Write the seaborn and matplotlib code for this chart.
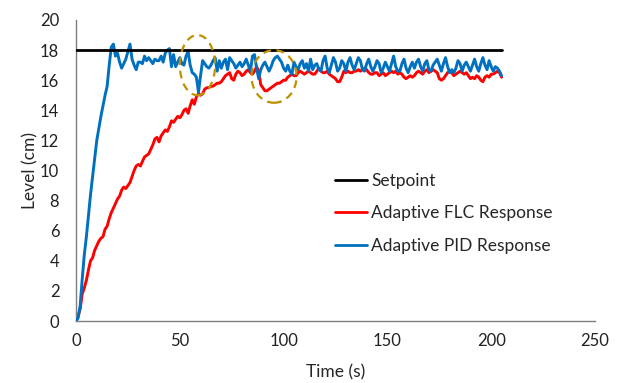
import numpy as np
import pandas as pd
import matplotlib
matplotlib.use("Agg")
import matplotlib.pyplot as plt
from matplotlib.patches import Ellipse
import seaborn as sns

time_s = list(range(0, 206))

pid_level = [
    0.0, 0.2, 1.0, 2.8, 4.4, 5.6, 7.0, 8.4, 9.6, 10.8,
    12.0, 12.8, 13.6, 14.3, 15.0, 15.6, 17.0, 18.2, 18.4, 17.6,
    17.8, 17.2, 16.8, 17.1, 17.4, 17.9, 18.4, 17.4, 17.0, 16.7,
    17.2, 17.2, 17.1, 17.6, 17.3, 17.5, 17.3, 17.1, 17.4, 17.3,
    17.3, 17.6, 17.2, 17.8, 18.0, 18.1, 16.9, 17.7, 16.9, 17.2,
    17.5, 17.1, 17.0, 17.6, 17.9, 17.0, 16.5, 16.4, 16.2, 15.2,
    16.3, 17.3, 17.1, 16.9, 16.8, 17.0, 17.3, 17.5, 16.6, 17.3,
    16.8, 17.2, 17.4, 16.7, 17.5, 17.3, 17.1, 16.8, 17.0, 17.2,
    16.9, 17.1, 17.4, 17.0, 16.6, 17.6, 17.7, 16.8, 16.1, 16.7,
    17.0, 17.2, 16.9, 16.6, 16.9, 17.3, 17.5, 17.6, 17.4, 17.2,
    16.8, 16.6, 17.0, 16.6, 16.4, 17.2, 16.9, 16.7, 17.1, 17.3,
    16.8, 17.1, 16.6, 17.4, 16.7, 17.0, 17.1, 16.7, 16.6, 17.3,
    17.6, 16.8, 16.5, 17.0, 17.5, 17.2, 16.6, 16.8, 17.3, 17.1,
    16.6, 17.2, 17.5, 17.0, 16.7, 17.1, 17.5, 17.3, 16.7, 16.6,
    17.1, 17.4, 16.9, 16.6, 16.9, 17.3, 17.1, 16.5, 16.8, 17.2,
    16.9, 16.6, 17.1, 17.6, 16.9, 16.6, 16.6, 17.1, 17.4, 16.8,
    16.5, 16.9, 17.2, 16.8, 17.2, 17.4, 16.9, 16.6, 17.1, 17.3,
    16.7, 16.6, 17.0, 17.2, 17.4, 17.0, 16.6, 17.1, 17.5, 16.9,
    16.5, 16.7, 16.5, 16.8, 17.3, 17.1, 16.6, 17.0, 17.2, 16.9,
    16.6, 17.0, 17.4, 16.9, 16.6, 17.1, 17.5, 17.0, 16.7, 17.3,
    16.9, 16.6, 16.9, 16.8, 16.6, 16.3,
]

flc_level = [
    0.0, 0.3, 0.8, 1.8, 2.2, 2.7, 3.4, 4.0, 4.2, 4.7,
    5.0, 5.3, 5.5, 5.6, 6.1, 6.3, 6.8, 7.2, 7.5, 7.8,
    8.1, 8.3, 8.7, 8.9, 8.8, 9.0, 9.2, 9.6, 10.0, 10.3,
    10.4, 10.3, 10.6, 10.9, 11.0, 11.1, 11.4, 11.7, 12.1, 12.2,
    11.9, 12.3, 12.5, 12.7, 12.6, 12.9, 13.3, 13.2, 13.4, 13.6,
    13.5, 13.7, 14.0, 14.1, 13.8, 14.3, 14.7, 14.4, 14.9, 15.1,
    15.0, 15.1, 15.4, 15.5, 15.5, 15.6, 15.6, 15.7, 15.8, 15.8,
    15.9, 16.1, 16.3, 16.4, 16.5, 16.1, 16.0, 16.4, 16.6, 16.5,
    16.3, 16.4, 16.6, 16.7, 16.5, 16.4, 16.6, 16.9, 16.6, 15.7,
    15.5, 15.3, 15.3, 15.4, 15.5, 15.6, 15.7, 15.8, 15.8, 15.9,
    16.0, 16.0, 16.2, 16.3, 16.4, 16.3, 16.3, 16.5, 16.6, 16.5,
    16.4, 16.5, 16.6, 16.5, 16.4, 16.4, 16.6, 16.8, 16.6, 16.5,
    16.5, 16.6, 16.4, 16.3, 16.2, 16.1, 15.9, 15.9, 16.2, 16.6,
    16.5, 16.6, 16.5, 16.5, 16.6, 16.6, 16.7, 16.6, 16.7, 16.8,
    16.7, 16.5, 16.4, 16.4, 16.5, 16.5, 16.3, 16.4, 16.5, 16.3,
    16.4, 16.5, 16.6, 16.5, 16.6, 16.4, 16.5, 16.4, 16.2, 16.1,
    16.2, 16.3, 16.2, 16.3, 16.5, 16.6, 16.5, 16.4, 16.6, 16.7,
    16.5, 16.6, 16.7, 16.6, 16.5, 16.1, 16.0, 16.1, 16.3, 16.5,
    16.6, 16.5, 16.3, 16.4, 16.5, 16.6, 16.5, 16.4, 16.5, 16.3,
    16.1, 16.2, 16.1, 16.3, 16.2, 16.0, 15.9, 16.2, 16.3, 16.2,
    16.4, 16.4, 16.5, 16.6, 16.5, 16.2,
]

setpoint_time = [0, 205]
setpoint_level = [18, 18]

series_names = ["Setpoint", "Adaptive FLC Response", "Adaptive PID Response"]
series_colors = ["#000000", "#FF0000", "#0070C0"]

# highlighted regions (center time, center level, width s, height cm)
circle_centers_t = [58.5, 95.4]
circle_centers_y = [17.0, 16.25]
circle_widths = [17.0, 21.7]
circle_heights = [4.0, 3.5]

sns.set_style("white")
plt.rcParams["font.family"] = ["Lato", "DejaVu Sans"]

df = pd.concat([
    pd.DataFrame({"t": setpoint_time, "y": setpoint_level, "s": series_names[0]}),
    pd.DataFrame({"t": time_s, "y": flc_level, "s": series_names[1]}),
    pd.DataFrame({"t": time_s, "y": pid_level, "s": series_names[2]}),
])

fig = plt.figure(figsize=(6.21, 3.83), dpi=100)
ax = fig.add_axes([76 / 621, 1 - 321 / 383, (595 - 76) / 621, (321 - 20) / 383])

sns.lineplot(data=df[df.s == series_names[2]], x="t", y="y", color=series_colors[2],
             lw=2.1, ax=ax, label=series_names[2], zorder=3)
sns.lineplot(data=df[df.s == series_names[1]], x="t", y="y", color=series_colors[1],
             lw=2.1, ax=ax, label=series_names[1], zorder=2)
sns.lineplot(data=df[df.s == series_names[0]], x="t", y="y", color=series_colors[0],
             lw=2.0, ax=ax, label=series_names[0], zorder=4)

for cx, cy, w, h in zip(circle_centers_t, circle_centers_y, circle_widths, circle_heights):
    ax.add_patch(Ellipse((cx, cy), w, h, fill=False, edgecolor="#BF9000",
                         lw=1.6, ls=(0, (3.5, 2.5)), zorder=5))

ax.set_xlim(0, 250)
ax.set_ylim(0, 20)
ax.set_xticks(range(0, 251, 50))
ax.set_yticks(range(0, 21, 2))
ax.tick_params(axis="x", labelsize=12, length=0, pad=9, colors="#222222")
ax.tick_params(axis="y", labelsize=12, length=0, pad=12, colors="#222222")
ax.set_xlabel("Time (s)", fontsize=12.5, labelpad=11)
ax.set_ylabel("Level (cm)", fontsize=12.5, labelpad=1)

for side in ["top", "right"]:
    ax.spines[side].set_visible(False)
for side in ["left", "bottom"]:
    ax.spines[side].set_color("#7f7f7f")
    ax.spines[side].set_linewidth(1.0)

handles, labels = ax.get_legend_handles_labels()
order = [labels.index(n) for n in series_names]
leg = ax.legend([handles[i] for i in order], [labels[i] for i in order],
                loc="upper left", bbox_to_anchor=((328 - 76) / 519, (321 - 166) / 301),
                frameon=False, fontsize=12.5, handlelength=1.85, handletextpad=0.25,
                labelspacing=0.95, borderaxespad=0)
for line in leg.get_lines():
    line.set_linewidth(2.0)

fig.savefig("out.png", dpi=100)
